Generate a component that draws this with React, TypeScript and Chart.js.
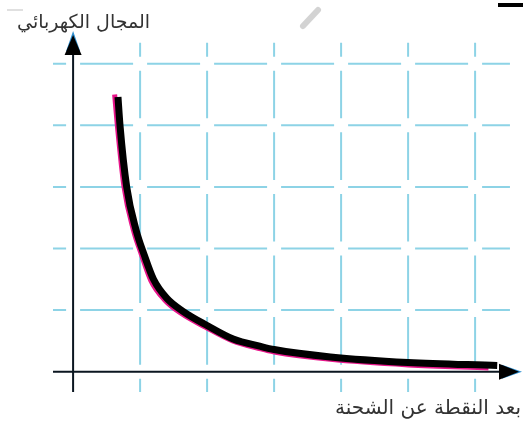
import { useEffect, useRef } from 'react';
import { Chart, registerables, Plugin } from 'chart.js';

Chart.register(...registerables);

// curve (distance units, field units)
const curveX = [0.67, 0.7, 0.8, 0.94, 1.06, 1.2, 1.4, 1.64, 2.0, 2.39, 2.8, 3.0, 3.84, 5.0, 6.33];
const curveY = [4.46, 4.0, 3.0, 2.3, 1.9, 1.5, 1.19, 0.98, 0.75, 0.53, 0.41, 0.36, 0.24, 0.15, 0.1];

// the magenta print line that peeks out from under the black one
const pinkX = [0.62, 0.66, 0.76, 0.9, 1.02, 1.16, 1.37, 1.61, 1.98, 2.38, 2.8, 3.0, 3.84, 5.0, 6.2];
const pinkY = [4.5, 4.0, 3.0, 2.3, 1.9, 1.48, 1.16, 0.95, 0.72, 0.5, 0.37, 0.32, 0.2, 0.11, 0.06];

const gridXs = [1, 2, 3, 4, 5, 6];
const gridYs = [1, 2, 3, 4, 5];

const yTitle = 'المجال الكهربائي';
const xTitle = 'بعد النقطة عن الشحنة';

const X_MIN = -0.3;
const X_MAX = 6.7;
const Y_MIN = -0.33;
const Y_MAX = 5.5;
const GRID_X_END = 6.52;
const GRID_Y_END = 5.34;
const GAP = 7;

const GRID_COLOR = '#8dd3e6';
const FONT = "'DejaVu Sans', sans-serif";

const toPoints = (xs: number[], ys: number[]) => xs.map((x, i) => ({ x, y: ys[i] }));

const sketchPlugin: Plugin<'line'> = {
  id: 'sketch',
  beforeDatasetsDraw(chart) {
    const { ctx } = chart;
    const xs = chart.scales.x;
    const ys = chart.scales.y;
    const px = (v: number) => xs.getPixelForValue(v);
    const py = (v: number) => ys.getPixelForValue(v);

    const left = px(X_MIN);
    const right = px(GRID_X_END);
    const top = py(GRID_Y_END);
    const bottom = py(Y_MIN);
    const vStops = [0, ...gridXs].map(px);
    const hStops = [0, ...gridYs].map(py).sort((a, b) => a - b);

    ctx.save();
    ctx.strokeStyle = GRID_COLOR;
    ctx.lineWidth = 2;
    ctx.beginPath();
    // horizontal grid, broken where it crosses a vertical
    for (const yv of gridYs) {
      const y = py(yv);
      let start = left;
      for (const x of vStops) {
        ctx.moveTo(start, y);
        ctx.lineTo(x - GAP, y);
        start = x + GAP;
      }
      ctx.moveTo(start, y);
      ctx.lineTo(right, y);
    }
    // vertical grid, broken where it crosses a horizontal
    for (const xv of gridXs) {
      const x = px(xv);
      let start = top;
      for (const y of hStops) {
        ctx.moveTo(x, start);
        ctx.lineTo(x, y - GAP);
        start = y + GAP;
      }
      ctx.moveTo(x, start);
      ctx.lineTo(x, bottom);
    }
    ctx.stroke();

    // axes
    const ox = px(0);
    const oy = py(0);
    const yTip = py(Y_MAX);
    const xTip = px(X_MAX) - 2;
    ctx.strokeStyle = '#0b1620';
    ctx.lineWidth = 2;
    ctx.beginPath();
    ctx.moveTo(left, oy);
    ctx.lineTo(xTip - 10, oy);
    ctx.moveTo(ox, bottom);
    ctx.lineTo(ox, yTip + 10);
    ctx.stroke();

    // arrow heads, with the blue misprint behind them
    ctx.fillStyle = '#2f8fd0';
    ctx.beginPath();
    ctx.moveTo(ox, yTip - 2);
    ctx.lineTo(ox - 7, yTip + 18);
    ctx.lineTo(ox + 7, yTip + 18);
    ctx.fill();
    ctx.beginPath();
    ctx.moveTo(xTip + 2, oy);
    ctx.lineTo(xTip - 18, oy - 7);
    ctx.lineTo(xTip - 18, oy + 7);
    ctx.fill();
    ctx.fillStyle = '#000';
    ctx.beginPath();
    ctx.moveTo(ox, yTip + 2);
    ctx.lineTo(ox - 8.5, yTip + 22);
    ctx.lineTo(ox + 8.5, yTip + 22);
    ctx.fill();
    ctx.beginPath();
    ctx.moveTo(xTip - 1, oy);
    ctx.lineTo(xTip - 21, oy - 8);
    ctx.lineTo(xTip - 21, oy + 8);
    ctx.fill();

    // titles
    ctx.fillStyle = '#333';
    ctx.direction = 'rtl';
    ctx.textAlign = 'right';
    ctx.textBaseline = 'middle';
    ctx.font = `19px ${FONT}`;
    ctx.fillText(yTitle, 150, 23);
    ctx.font = `20px ${FONT}`;
    ctx.fillText(xTitle, 521, 409);

    // scan marks along the top edge
    ctx.fillStyle = '#000';
    ctx.fillRect(498, 3, 25, 4);
    ctx.strokeStyle = '#d6d6d6';
    ctx.lineWidth = 1.5;
    ctx.beginPath();
    ctx.moveTo(7, 10);
    ctx.lineTo(23, 10);
    ctx.stroke();
    ctx.strokeStyle = 'rgba(200,200,200,0.8)';
    ctx.lineWidth = 6;
    ctx.lineCap = 'round';
    ctx.beginPath();
    ctx.moveTo(318, 10);
    ctx.lineTo(303, 26);
    ctx.stroke();
    ctx.restore();
  },
};

export default function App() {
  const canvasRef = useRef<HTMLCanvasElement>(null);
  const chartRef = useRef<Chart<'line'> | null>(null);

  useEffect(() => {
    if (!canvasRef.current) return;
    if (chartRef.current) chartRef.current.destroy();

    chartRef.current = new Chart(canvasRef.current, {
      type: 'line',
      data: {
        datasets: [
          {
            data: toPoints(curveX, curveY),
            borderColor: '#000',
            borderWidth: 7,
            pointRadius: 0,
            cubicInterpolationMode: 'monotone',
            order: 1,
          },
          {
            data: toPoints(pinkX, pinkY),
            borderColor: '#e8158a',
            borderWidth: 5,
            pointRadius: 0,
            cubicInterpolationMode: 'monotone',
            order: 2,
          },
        ],
      },
      options: {
        animation: false,
        responsive: true,
        maintainAspectRatio: false,
        layout: { padding: { left: 53, right: 1, top: 33, bottom: 31 } },
        plugins: { legend: { display: false }, tooltip: { enabled: false } },
        scales: {
          x: { type: 'linear', min: X_MIN, max: X_MAX, display: false },
          y: { type: 'linear', min: Y_MIN, max: Y_MAX, display: false },
        },
      },
      plugins: [sketchPlugin],
    });

    return () => {
      chartRef.current?.destroy();
      chartRef.current = null;
    };
  }, []);

  return (
    <div style={{ position: 'fixed', left: 0, top: 0, width: 523, height: 423, background: '#fff' }}>
      <canvas ref={canvasRef} />
    </div>
  );
}
